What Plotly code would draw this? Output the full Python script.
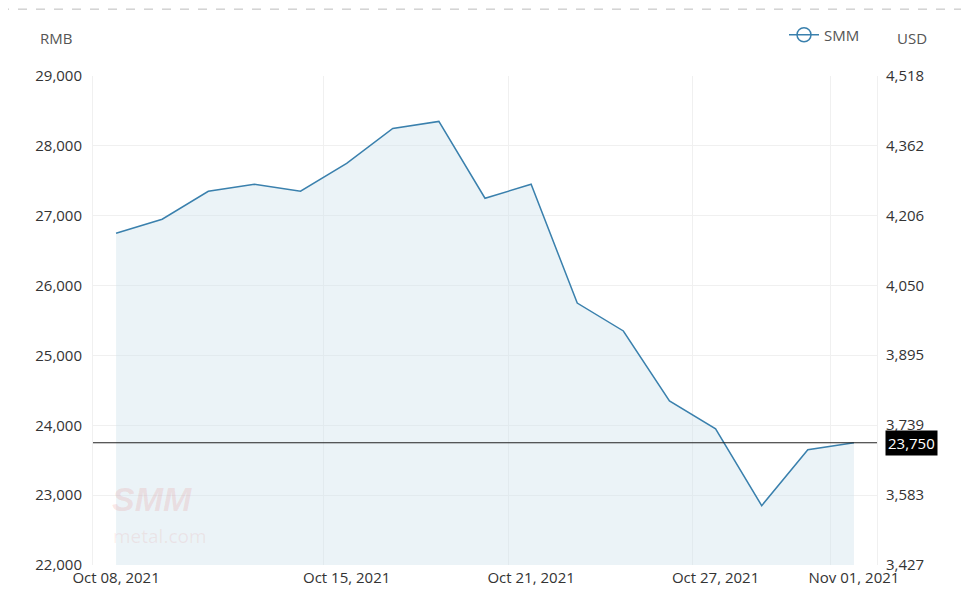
import plotly.graph_objects as go

dates = ["2021-10-08", "2021-10-11", "2021-10-12", "2021-10-13", "2021-10-14",
         "2021-10-15", "2021-10-18", "2021-10-19", "2021-10-20", "2021-10-21",
         "2021-10-22", "2021-10-25", "2021-10-26", "2021-10-27", "2021-10-28",
         "2021-10-29", "2021-11-01"]
prices = [26750, 26950, 27350, 27450, 27350, 27750, 28250, 28350, 27250, 27450,
          25750, 25350, 24350, 23950, 22850, 23650, 23750]
tick_dates = ["2021-10-08", "2021-10-15", "2021-10-21", "2021-10-27", "2021-11-01"]
tick_labels = ["Oct 08, 2021", "Oct 15, 2021", "Oct 21, 2021", "Oct 27, 2021", "Nov 01, 2021"]
rmb_ticks = [22000, 23000, 24000, 25000, 26000, 27000, 28000, 29000]
usd_ticks = [3427, 3583, 3739, 3895, 4050, 4206, 4362, 4518]
last_price = 23750

FONT = "Open Sans, Noto Sans, sans-serif"
line_color = "#3a80ad"
OFF = 8  # page body margin
W, H = 969 - 2 * OFF, 595 - 2 * OFF
L, R, T, B = 93 - OFF, W - (877 - OFF), 75 - OFF, H - (565 - OFF)
PW, PH = W - L - R, H - T - B


def px(x):
    return (x - OFF - L) / PW


def py(y):
    return (H - B - (y - OFF)) / PH


fig = go.Figure()
fig.add_trace(go.Scatter(
    x=dates, y=prices, mode="lines", name="SMM", showlegend=False,
    line=dict(color=line_color, width=1.5),
    fill="tozeroy", fillcolor="rgba(205,224,234,0.4)",
))
fig.add_trace(go.Scatter(
    x=[dates[0]], y=[None], mode="lines+markers", name="SMM",
    line=dict(color=line_color, width=1.5),
    marker=dict(symbol="circle-open", size=14, color=line_color, line=dict(width=1.5)),
    showlegend=True,
))
fig.add_trace(go.Scatter(x=[dates[0]], y=[None], yaxis="y2", showlegend=False))

fig.add_shape(type="line", xref="paper", x0=0, x1=1, yref="y", y0=last_price, y1=last_price,
              line=dict(color="#222222", width=1))
fig.add_annotation(xref="paper", x=px(885), yref="y", y=last_price, xanchor="left",
                   text=f"{last_price:,}", showarrow=False, bgcolor="#000000",
                   font=dict(color="white", size=15, family=FONT), borderpad=2)
fig.add_shape(type="line", xref="paper", yref="paper", x0=px(0), x1=px(969), y0=py(8), y1=py(8),
              line=dict(color="#bbbbbb", width=1, dash="dash"))
fig.add_annotation(xref="paper", yref="paper", x=px(74), y=py(37), text="RMB", showarrow=False,
                   font=dict(size=15, color="#555555", family=FONT), xanchor="right", yanchor="middle")
fig.add_annotation(xref="paper", yref="paper", x=px(895), y=py(37), text="USD", showarrow=False,
                   font=dict(size=15, color="#555555", family=FONT), xanchor="left", yanchor="middle")
fig.add_annotation(xref="paper", yref="paper", x=px(110), y=py(520), text="<b><i>SMM</i></b>", showarrow=False,
                   font=dict(size=34, color="rgba(225,110,110,0.16)", family="Liberation Sans, Arial"),
                   xanchor="left", yanchor="bottom")
fig.add_annotation(xref="paper", yref="paper", x=px(111), y=py(521), text="metal.com", showarrow=False,
                   font=dict(size=19, color="rgba(225,110,110,0.12)", family=FONT),
                   xanchor="left", yanchor="top")

fig.update_layout(
    width=W, height=H,
    margin=dict(l=L, r=R, t=T, b=B),
    paper_bgcolor="white", plot_bgcolor="white",
    font=dict(family=FONT, size=15, color="#333333"),
    showlegend=True,
    legend=dict(x=px(784), y=py(35), xanchor="left", yanchor="middle", orientation="h",
                font=dict(size=15, color="#555555", family=FONT), bgcolor="rgba(0,0,0,0)"),
    xaxis=dict(type="category", categoryorder="array", categoryarray=dates,
               range=[-0.5, len(dates) - 0.5], automargin=False, tickangle=0,
               tickvals=tick_dates, ticktext=tick_labels, tickson="boundaries",
               ticklabelstandoff=2,
               showgrid=True, gridcolor="#f0f0f0", gridwidth=1,
               showline=False, zeroline=False, ticks="", tickfont=dict(size=15, color="#333333")),
    yaxis=dict(range=[22000, 29000], tickvals=rmb_ticks, tickformat=",d", automargin=False,
               ticklabelstandoff=7,
               showgrid=True, gridcolor="#f0f0f0", zeroline=False, showline=True,
               linecolor="#f0f0f0", ticks="", tickfont=dict(size=15, color="#333333")),
    yaxis2=dict(overlaying="y", side="right", range=[usd_ticks[0], usd_ticks[-1]], automargin=False,
                tickvals=usd_ticks, tickformat=",d", showgrid=False, zeroline=False,
                ticklabelstandoff=5,
                showline=True, linecolor="#f0f0f0", ticks="",
                tickfont=dict(size=15, color="#333333")),
)

fig.write_html("out.html")
